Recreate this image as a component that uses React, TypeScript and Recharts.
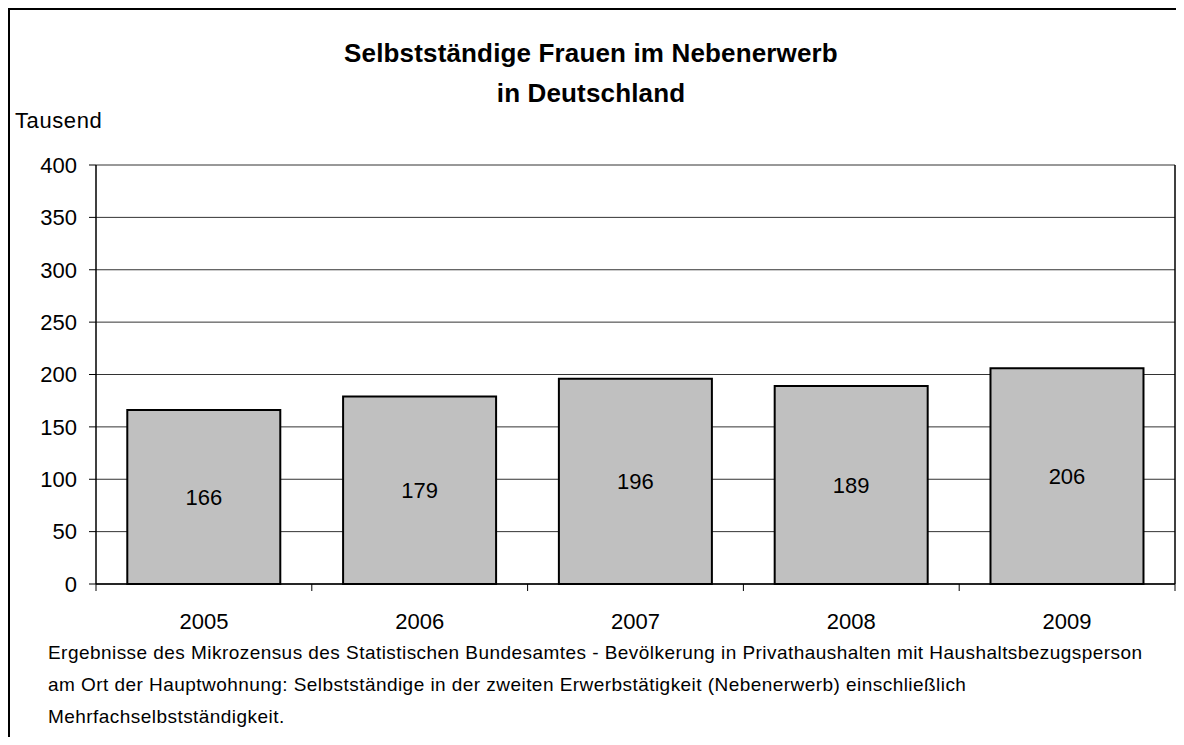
import { BarChart, Bar, XAxis, YAxis, CartesianGrid, LabelList } from "recharts";

const jahre = ["2005", "2006", "2007", "2008", "2009"];
const frauenTsd = [166, 179, 196, 189, 206];
const yTicks = [0, 50, 100, 150, 200, 250, 300, 350, 400];

const titelZeilen = ["Selbstständige Frauen im Nebenerwerb", "in Deutschland"];
const fussnote = [
  "Ergebnisse des Mikrozensus des Statistischen Bundesamtes - Bevölkerung in Privathaushalten mit Haushaltsbezugsperson",
  "am Ort der Hauptwohnung: Selbstständige in der zweiten Erwerbstätigkeit (Nebenerwerb) einschließlich",
  "Mehrfachselbstständigkeit.",
];

const FONT = "Arial, 'Liberation Sans', sans-serif";

// Jahr-Beschriftung plus Striche an den Kategoriegrenzen (wie in Excel)
function JahrTick(props: any) {
  const { x, y, payload, index } = props;
  const halb = payload?.offset ?? 0;
  const achseY = y - 29;
  return (
    <g>
      <line x1={x - halb} x2={x - halb} y1={achseY} y2={achseY + 7} stroke="#000" />
      {index === jahre.length - 1 && (
        <line x1={x + halb} x2={x + halb} y1={achseY} y2={achseY + 7} stroke="#000" />
      )}
      <text x={x} y={y} dy="0.71em" textAnchor="middle" fontSize={22} fill="#000" fontFamily={FONT}>
        {payload.value}
      </text>
    </g>
  );
}

export default function App() {
  const daten = jahre.map((jahr, i) => ({ jahr, wert: frauenTsd[i] }));

  return (
    <div
      style={{
        position: "relative",
        width: 1168,
        height: 737,
        marginBottom: -8,
        boxSizing: "border-box",
        borderTop: "2px solid #000",
        borderLeft: "2px solid #000",
        fontFamily: FONT,
        color: "#000",
        overflow: "hidden",
      }}
    >
      <div
        style={{
          position: "absolute",
          left: 0,
          top: 23,
          width: 1162,
          textAlign: "center",
          fontSize: 26,
          fontWeight: "bold",
          lineHeight: "40px",
          letterSpacing: 0.15,
        }}
      >
        {titelZeilen.map((z) => (
          <div key={z}>{z}</div>
        ))}
      </div>

      <div
        style={{
          position: "absolute",
          left: 5,
          top: 99,
          fontSize: 22,
          lineHeight: "24px",
          letterSpacing: 0.6,
        }}
      >
        Tausend
      </div>

      <div style={{ position: "absolute", left: 0, top: 0 }}>
        <BarChart
          width={1166}
          height={727}
          data={daten}
          margin={{ top: 155, right: 0, left: 10, bottom: 103 }}
          barCategoryGap="14.5%"
        >
          <CartesianGrid vertical={false} stroke="#333" strokeWidth={1} />
          <XAxis
            dataKey="jahr"
            tickLine={false}
            tickSize={0}
            tickMargin={29}
            interval={0}
            axisLine={{ stroke: "#000", strokeWidth: 1.5 }}
            tick={<JahrTick />}
            height={50}
          />
          <XAxis
            xAxisId="oben"
            orientation="top"
            dataKey="jahr"
            tick={false}
            tickLine={false}
            axisLine={{ stroke: "#000", strokeWidth: 1.5 }}
            height={0}
          />
          <YAxis
            domain={[0, 400]}
            ticks={yTicks}
            interval={0}
            tickSize={7}
            tickMargin={12}
            width={76}
            axisLine={{ stroke: "#000", strokeWidth: 1.5 }}
            tickLine={{ stroke: "#000" }}
            tick={{ fontSize: 22, fill: "#000", fontFamily: FONT }}
          />
          <YAxis
            yAxisId="rechts"
            orientation="right"
            domain={[0, 400]}
            tick={false}
            tickLine={false}
            axisLine={{ stroke: "#000", strokeWidth: 1.5 }}
            width={1}
          />
          <Bar dataKey="wert" fill="#C0C0C0" stroke="#000" strokeWidth={2} isAnimationActive={false}>
            <LabelList
              dataKey="wert"
              position="center"
              fill="#000"
              fontSize={22}
              fontFamily={FONT}
            />
          </Bar>
        </BarChart>
      </div>

      <div
        style={{
          position: "absolute",
          left: 38,
          top: 627,
          fontSize: 19,
          lineHeight: "32px",
          letterSpacing: 0.45,
          whiteSpace: "nowrap",
        }}
      >
        {fussnote.map((z) => (
          <div key={z}>{z}</div>
        ))}
      </div>
    </div>
  );
}
